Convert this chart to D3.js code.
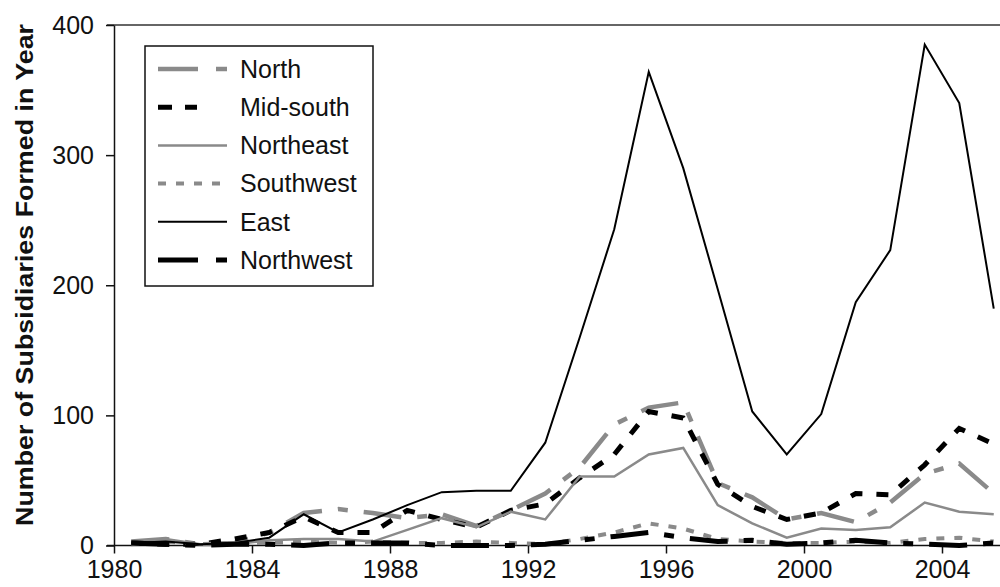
<!DOCTYPE html>
<html>
<head>
<meta charset="utf-8">
<script src="https://cdn.jsdelivr.net/npm/d3@7"></script>
<style>
  body { margin: 0; background: #fff; }
  text { font-family: "Liberation Sans", Arial, sans-serif; fill: #111; }
</style>
</head>
<body>
<div id="vis"></div>
<script>
// mid-year points, 1980.5 .. 2005.5
var years = d3.range(1980.5, 2006, 1);

var north     = [3, 5, 1, 2, 10, 25, 28, 25, 21, 24, 15, 27, 40, 60, 93, 106, 110, 48, 37, 20, 25, 18, 33, 55, 63, 40];
var midSouth  = [2, 1, 1, 5, 10, 22, 10, 10, 27, 20, 14, 27, 32, 52, 70, 103, 98, 47, 30, 20, 25, 40, 39, 62, 90, 78];
var northeast = [2, 5, 1, 1, 4, 5, 5, 3, 12, 21, 14, 26, 20, 53, 53, 70, 75, 31, 17, 6, 13, 12, 14, 33, 26, 24];
var southwest = [1, 3, 1, 2, 2, 3, 2, 3, 2, 2, 3, 2, 1, 5, 10, 17, 13, 5, 3, 2, 2, 3, 2, 5, 6, 3];
var east      = [2, 3, 1, 2, 6, 24, 10, 20, 31, 41, 42, 42, 79, 160, 243, 364, 290, 197, 103, 70, 101, 187, 227, 385, 340, 182];
var northwest = [2, 1, 0, 1, 1, 0, 2, 2, 2, 0, 0, 0, 1, 4, 7, 10, 6, 3, 4, 1, 2, 4, 2, 1, 0, 2];

var seriesNames = ["North", "Mid-south", "Northeast", "Southwest", "East", "Northwest"];
var xTicks = [1980, 1984, 1988, 1992, 1996, 2000, 2004];
var yTicks = [0, 100, 200, 300, 400];

// line styles for each region
var styles = {
  "North":     {color: "#8a8a8a", width: 4.5, dash: "38,16,10,16"},
  "Mid-south": {color: "#000",    width: 5,   dash: "12,14"},
  "Northeast": {color: "#8a8a8a", width: 2.5, dash: null},
  "Southwest": {color: "#8a8a8a", width: 4,   dash: "8,10"},
  "East":      {color: "#000",    width: 2,   dash: null},
  "Northwest": {color: "#000",    width: 5,   dash: "38,16,10,16"}
};

var values = [north, midSouth, northeast, southwest, east, northwest];
var series = seriesNames.map(function(name, i) {
  return {name: name, points: years.map(function(yr, j) { return {year: yr, value: values[i][j]}; })};
});

var width = 1000, height = 587;

var svg = d3.select("#vis").append("svg")
  .attr("width", width)
  .attr("height", height);

var x = d3.scaleLinear().domain([1980, 2006]).range([114, 1011]);
var y = d3.scaleLinear().domain([0, 400]).range([545.5, 25]);

// top border
svg.append("line")
  .attr("x1", 107).attr("x2", width)
  .attr("y1", y(400)).attr("y2", y(400))
  .attr("stroke", "#333").attr("stroke-width", 1.5);

// y axis
var yAxis = svg.append("g")
  .attr("transform", "translate(" + x(1980) + ",0)")
  .call(d3.axisLeft(y).tickValues(yTicks).tickSize(8).tickSizeOuter(0).tickPadding(12));
yAxis.select(".domain").attr("stroke", "#111").attr("stroke-width", 1.5);
yAxis.selectAll(".tick line").attr("stroke", "#111").attr("stroke-width", 1.5);
yAxis.selectAll("text").style("font-size", "25px").style("font-family", "'Liberation Sans', Arial, sans-serif").attr("fill", "#111");

// x axis
var xAxis = svg.append("g")
  .attr("transform", "translate(0," + y(0) + ")")
  .call(d3.axisBottom(x).tickValues(xTicks).tickFormat(d3.format("d")).tickSize(8).tickSizeOuter(0).tickPadding(7));
xAxis.select(".domain").attr("d", "M107,0H" + width).attr("stroke", "#111").attr("stroke-width", 1.5);
xAxis.selectAll(".tick line").attr("stroke", "#111").attr("stroke-width", 1.5);
xAxis.selectAll("text").style("font-size", "25px").style("font-family", "'Liberation Sans', Arial, sans-serif").attr("fill", "#111");

// y title
svg.append("text")
  .attr("transform", "translate(33,275) rotate(-90)")
  .attr("text-anchor", "middle")
  .attr("textLength", 502)
  .attr("lengthAdjust", "spacingAndGlyphs")
  .style("font-size", "24px")
  .style("font-weight", "bold")
  .text("Number of Subsidiaries Formed in Year");

// the lines
var line = d3.line()
  .x(function(d) { return x(d.year); })
  .y(function(d) { return y(d.value); });

svg.append("g")
  .selectAll("path")
  .data(series)
  .enter()
    .append("path")
    .attr("d", function(d) { return line(d.points); })
    .attr("fill", "none")
    .attr("stroke", function(d) { return styles[d.name].color; })
    .attr("stroke-width", function(d) { return styles[d.name].width; })
    .attr("stroke-dasharray", function(d) { return styles[d.name].dash; })
    .attr("stroke-linejoin", "miter");

// legend
var legend = svg.append("g").attr("class", "legend");
legend.append("rect")
  .attr("x", 145).attr("y", 46)
  .attr("width", 228).attr("height", 240)
  .attr("fill", "#fff")
  .attr("stroke", "#111").attr("stroke-width", 1.5);

var item = legend.selectAll(".item")
  .data(seriesNames)
  .enter()
    .append("g")
    .attr("class", "item")
    .attr("transform", function(d, i) { return "translate(0," + (69 + i * 38.2) + ")"; });

item.append("line")
  .attr("x1", 158).attr("x2", 227)
  .attr("stroke", function(d) { return styles[d].color; })
  .attr("stroke-width", function(d) { return styles[d].width; })
  .attr("stroke-dasharray", function(d) {
    if (d == "North" || d == "Northwest") return "40,18,11,18";
    if (d == "Mid-south") return "14,13,12,33,2,10";
    return styles[d].dash;
  });

item.append("text")
  .attr("x", 240)
  .attr("dy", "0.35em")
  .style("font-size", "25px")
  .text(function(d) { return d; });
</script>
</body>
</html>
